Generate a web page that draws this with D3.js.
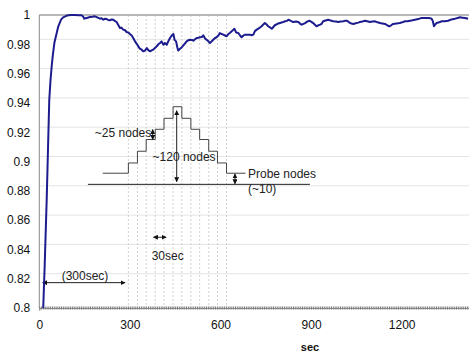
<!DOCTYPE html>
<html>
<head>
<meta charset="utf-8">
<script src="https://cdn.jsdelivr.net/npm/d3@7"></script>
<style>
  body { margin: 0; background: #fff; }
  svg { display: block; font-family: "Liberation Sans", Arial, sans-serif; }
</style>
</head>
<body>
<svg id="chart" width="469" height="352"></svg>
<script>
// availability curve (sec, fraction)
const times = [13,18,24.5,29,33,37,41,45,50,58,63,72,79,88,96,105,118,130,140,145,149,153,157,168,176,184,192,201,206,212,218,223,228,234,240,245,250,256,262,267,272,278,284,289,295,300,306,311,317,322,328,333,339,344,350,356,361,367,372,377,383,389,394,400,405,411,416,422,427,433,438,444,448,453,457,460,466,472,480,488,494,499,505,510,516,521,527,532,538,543,549,554,560,565,571,576,582,587,593,598,604,609,615,620,626,631,638,646,652,659,665,670,676,681,690,698,703,709,714,720,728,736,742,747,753,758,764,770,775,780,789,797,805,814,820,825,833,841,850,858,864,869,875,880,887,894,900,907,912,918,924,930,935,940,948,957,965,973,982,990,998,1007,1012,1018,1023,1029,1034,1040,1045,1051,1056,1062,1070,1078,1086,1095,1103,1112,1120,1128,1136,1145,1152,1159,1165,1172,1183,1194,1202,1211,1219,1228,1236,1244,1255,1266,1277,1288,1294,1299,1303,1307,1311,1316,1324,1333,1343,1354,1365,1377,1385,1393,1401,1410,1420];
const values = [0.800,0.830,0.874,0.910,0.942,0.955,0.965,0.973,0.981,0.988,0.9923,0.9968,0.9984,0.9993,0.9998,1.0,1.0,0.9999,0.9998,0.9990,0.9975,0.9978,0.998,0.9986,0.9988,0.9991,0.9984,0.9975,0.9978,0.9968,0.9975,0.9973,0.9966,0.9964,0.997,0.9968,0.996,0.9952,0.993,0.9911,0.9914,0.990,0.9896,0.9884,0.988,0.987,0.986,0.9843,0.982,0.9805,0.9786,0.977,0.9763,0.9752,0.9757,0.9775,0.976,0.9752,0.9758,0.9763,0.9775,0.9786,0.980,0.9809,0.982,0.9797,0.9809,0.9797,0.982,0.9843,0.9858,0.987,0.983,0.982,0.978,0.9757,0.977,0.978,0.980,0.982,0.9828,0.9831,0.983,0.9825,0.9835,0.9843,0.9845,0.9848,0.985,0.9861,0.984,0.9831,0.982,0.9809,0.982,0.9831,0.9843,0.9848,0.986,0.9877,0.987,0.9866,0.986,0.9855,0.987,0.9877,0.989,0.9906,0.988,0.9877,0.986,0.9848,0.986,0.9866,0.9866,0.9866,0.9862,0.9866,0.989,0.990,0.991,0.9923,0.9935,0.9945,0.9935,0.9923,0.9915,0.9906,0.9918,0.993,0.994,0.9945,0.995,0.9957,0.996,0.9968,0.996,0.9952,0.9955,0.9952,0.994,0.9934,0.994,0.9945,0.9955,0.9961,0.9955,0.9945,0.9935,0.9923,0.993,0.9934,0.994,0.9957,0.9962,0.9968,0.9962,0.9957,0.9955,0.9952,0.9955,0.9957,0.996,0.9961,0.9955,0.9945,0.9942,0.9939,0.9942,0.9945,0.9948,0.9952,0.9955,0.9961,0.9957,0.9952,0.9955,0.9957,0.995,0.9945,0.9942,0.9939,0.993,0.9923,0.993,0.9939,0.9942,0.9945,0.995,0.9957,0.9958,0.9961,0.9964,0.9968,0.9972,0.998,0.998,0.998,0.9978,0.9975,0.996,0.9923,0.9935,0.9945,0.995,0.9957,0.9958,0.9961,0.997,0.9975,0.998,0.9984,0.9982,0.998,0.9975];

const xTicks = [0, 300, 600, 900, 1200];
const xLabels = ["0", "300", "600", "900", "1200"];
const yTicks = [0.8, 0.82, 0.84, 0.86, 0.88, 0.9, 0.92, 0.94, 0.96, 0.98, 1];
const yLabels = ["0.8","0.82","0.84","0.86","0.88","0.9","0.92","0.94","0.96","0.98","1"];

// 30 sec guide lines
const guideTimes = [295,325,354,384,413,443,472,502,531,561,590,620];

// schematic: probe node staircase
const stairTimes = [210,295,325,354,384,413,443,472,502,531,561,590,620,683];
const stairLevels = [0.892,0.899,0.907,0.915,0.922,0.9295,0.9374,0.9295,0.922,0.915,0.907,0.899,0.892,0.892];
const baseLine = [[161, 0.8844], [896, 0.8844]];

const arrows = [
  [[455, 0.9347], [455, 0.8862]],   // ~120 nodes
  [[375.5, 0.9218], [375.5, 0.9150]], // ~25 nodes
  [[648, 0.8915], [648, 0.8848]],   // probe nodes
  [[378, 0.8483], [420, 0.8483]],   // 30sec
  [[11, 0.8173], [284, 0.8173]]     // 300sec
];
const notes = [
  {text: "~25 nodes", t: 184, v: 0.9197},
  {text: "~120 nodes", t: 375, v: 0.9031},
  {text: "Probe nodes", t: 691, v: 0.8914},
  {text: "(~10)", t: 691, v: 0.8812},
  {text: "30sec", t: 372, v: 0.8355},
  {text: "(300sec)", t: 74, v: 0.8218}
];

const svg = d3.select("#chart");
const m = {left: 39.3, top: 15, bottom: 308, right: 469};

const x = d3.scaleLinear().domain([0, 1423]).range([m.left, m.right]);
const y = d3.scaleLinear().domain([0.8, 1]).range([m.bottom, m.top]);

const defs = svg.append("defs");
defs.append("clipPath").attr("id", "plot")
  .append("rect").attr("x", m.left).attr("y", m.top - 3)
  .attr("width", m.right - m.left).attr("height", m.bottom - m.top + 3);

const marker = defs.append("marker")
  .attr("id", "head").attr("viewBox", "0 0 10 10")
  .attr("refX", 9).attr("refY", 5)
  .attr("markerWidth", 5).attr("markerHeight", 5)
  .attr("markerUnits", "userSpaceOnUse")
  .attr("orient", "auto-start-reverse");
marker.append("path").attr("d", "M0,0L10,5L0,10Z").attr("fill", "#111");

// horizontal grid (sits a little above the labels in the original)
svg.append("g").attr("transform", "translate(0,-5)")
  .selectAll("line").data(yTicks.slice(1, -1)).join("line")
  .attr("x1", m.left).attr("x2", m.right)
  .attr("y1", d => y(d)).attr("y2", d => y(d))
  .attr("stroke", "#e4e4e4").attr("stroke-width", 1);

// vertical dashed guides
svg.append("g").selectAll("line").data(guideTimes).join("line")
  .attr("x1", d => x(d)).attr("x2", d => x(d))
  .attr("y1", m.top).attr("y2", m.bottom)
  .attr("stroke", "#d2d2d2").attr("stroke-dasharray", "2,2");

// frame
svg.append("line").attr("x1", m.left).attr("x2", m.right).attr("y1", m.top).attr("y2", m.top)
  .attr("stroke", "#a0a0a0").attr("stroke-width", 1.5);
svg.append("line").attr("x1", m.left).attr("x2", m.left).attr("y1", m.top).attr("y2", m.bottom)
  .attr("stroke", "#8a8a8a").attr("stroke-width", 1);

// x axis: dense minor ticks plus labels
const minor = d3.range(0, 1424, 6);
svg.append("g").attr("transform", `translate(0,${m.bottom})`)
  .call(d3.axisBottom(x).tickValues(minor).tickSize(3).tickFormat(""))
  .call(g => g.select(".domain").attr("stroke", "#999"))
  .call(g => g.selectAll(".tick line").attr("stroke", "#777").attr("transform", "translate(0,-1.5)"));
svg.append("g").attr("transform", `translate(0,${m.bottom})`)
  .call(d3.axisBottom(x).tickValues(xTicks).tickSize(0).tickPadding(12)
    .tickFormat((d, i) => xLabels[i]))
  .call(g => g.select(".domain").remove())
  .call(g => g.selectAll("text").attr("font-size", 12).attr("fill", "#111")
    .attr("font-family", "Liberation Sans, Arial, sans-serif"));

// y axis labels
svg.append("g").attr("transform", `translate(${m.left},0)`)
  .call(d3.axisLeft(y).tickValues(yTicks).tickSize(0).tickPadding(9)
    .tickFormat((d, i) => yLabels[i]))
  .call(g => g.select(".domain").remove())
  .call(g => g.selectAll("text").attr("font-size", 12).attr("fill", "#111")
    .attr("font-family", "Liberation Sans, Arial, sans-serif"));

svg.append("text").attr("x", 310).attr("y", 351)
  .attr("text-anchor", "middle").attr("font-size", 11).attr("font-weight", "bold")
  .attr("fill", "#111").text("sec");

// schematic
const stair = d3.line().x(d => x(d[0])).y(d => y(d[1])).curve(d3.curveStepAfter);
svg.append("path")
  .attr("d", stair(stairTimes.map((t, i) => [t, stairLevels[i]])))
  .attr("fill", "none").attr("stroke", "#444").attr("stroke-width", 1);

const seg = d3.line().x(d => x(d[0])).y(d => y(d[1]));
svg.append("path").attr("d", seg(baseLine))
  .attr("stroke", "#222").attr("stroke-width", 1).attr("fill", "none");

svg.append("g").selectAll("path").data(arrows).join("path")
  .attr("d", d => seg(d))
  .attr("stroke", "#222").attr("stroke-width", 1).attr("fill", "none")
  .attr("marker-start", "url(#head)").attr("marker-end", "url(#head)");

svg.append("g").selectAll("text").data(notes).join("text")
  .attr("x", d => x(d.t)).attr("y", d => y(d.v))
  .attr("dy", "0.35em").attr("font-size", 12).attr("fill", "#222")
  .text(d => d.text);

// curve
const line = d3.line().x(d => x(d[0])).y(d => y(d[1]));
svg.append("path")
  .attr("clip-path", "url(#plot)")
  .attr("d", line(times.map((t, i) => [t, values[i]])))
  .attr("fill", "none").attr("stroke", "#1c1c8e").attr("stroke-width", 2)
  .attr("stroke-linejoin", "round");
</script>
</body>
</html>
